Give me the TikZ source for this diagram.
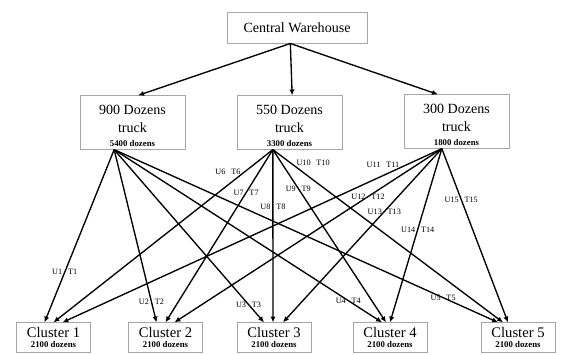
\documentclass[tikz,border=0pt]{standalone}
\usepackage{fontspec}
\setmainfont{Liberation Serif}
\usetikzlibrary{positioning}
\usetikzlibrary{shapes}
\usetikzlibrary{arrows.meta}

\tikzset{
  box/.style = {draw=gray!70, line width=0.8pt, align=center, inner sep=1pt, font=\fontsize{12}{15}\selectfont},
  truck/.style = {minimum width=3.15cm, minimum height=1.6cm},
  cluster/.style = {minimum width=2.22cm, minimum height=0.88cm, font=\fontsize{12.5}{12}\selectfont},
  link/.style = {-{Latex[length=5pt,width=4.5pt]}, line width=1.15pt},
  lbl/.style = {font=\fontsize{7}{8}\selectfont, inner sep=0pt},
}
\newcommand{\dz}[1]{\\[-3pt]{\fontsize{7.5}{8}\selectfont\bfseries #1 dozens}}
\newcommand{\ut}[1]{U#1\hspace{5pt}T#1}

\begin{document}
\begin{tikzpicture}[x=0.03cm, y=-0.03cm]
\useasboundingbox (0,0) rectangle (566,354);

% warehouse and trucks
\node[box, minimum width=4.2cm, minimum height=0.93cm] at (297,27.5) (wh) {Central Warehouse};
\node[box, truck] at (132.5,122.5) (t1) {\rule{0pt}{14pt}900 Dozens\\truck\dz{5400}};
\node[box, truck] at (289.5,122.5) (t2) {\rule{0pt}{14pt}550 Dozens\\truck\dz{3300}};
\node[box, truck] at (456.5,121.5) (t3) {\rule{0pt}{14pt}300 Dozens\\truck\dz{1800}};

% clusters
\node[box, cluster] at (53.5,337.5) (c1) {Cluster 1\dz{2100}};
\node[box, cluster] at (165.5,337.5) (c2) {Cluster 2\dz{2100}};
\node[box, cluster] at (274,337.5) (c3) {Cluster 3\dz{2100}};
\node[box, cluster] at (390,337.5) (c4) {Cluster 4\dz{2100}};
\node[box, cluster] at (518,337.5) (c5) {Cluster 5\dz{2100}};

\draw[link] ([xshift=-0.2cm]wh.south) -- ([xshift=0.17cm]t1.north);
\draw[link] ([xshift=-0.2cm]wh.south) -- ([xshift=0.08cm]t2.north);
\draw[link] ([xshift=-0.2cm]wh.south) -- ([xshift=-0.56cm]t3.north);

% truck 1
\draw[link] ([xshift=-0.55cm]t1.south) -- ([xshift=-0.27cm]c1.north) node[lbl, pos=0.71] (l1) {\ut{1}};
\draw[link] ([xshift=-0.55cm]t1.south) -- ([xshift=-0.27cm]c2.north) node[lbl, pos=0.88] (l2) {\ut{2}};
\draw[link] ([xshift=-0.55cm]t1.south) -- ([xshift=-0.3cm]c3.north) node[lbl, pos=0.897] (l3) {\ut{3}};
\draw[link] ([xshift=-0.55cm]t1.south) -- ([xshift=-0.24cm]c4.north) node[lbl, pos=0.874] (l4) {\ut{4}};
\draw[link] ([xshift=-0.55cm]t1.south) -- ([xshift=-0.6cm]c5.north) node[lbl, pos=0.857] (l5) {\ut{5}};

% truck 2
\draw[link] ([xshift=-0.5cm]t2.south) -- (c1.north) node[lbl, pos=0.127, xshift=-0.51cm] (l6) {\ut{6}};
\draw[link] ([xshift=-0.5cm]t2.south) -- (c2.north) node[lbl, pos=0.249] (l7) {\ut{7}};
\draw[link] ([xshift=-0.5cm]t2.south) -- ([xshift=-0.03cm]c3.north) node[lbl, pos=0.33] (l8) {\ut{8}};
\draw[link] ([xshift=-0.5cm]t2.south) -- ([xshift=-0.12cm]c4.north) node[lbl, pos=0.225] (l9) {\ut{9}};
\draw[link] ([xshift=-0.5cm]t2.south) -- ([xshift=-0.45cm]c5.north) node[lbl, pos=0.075, xshift=0.69cm] (l10) {\ut{10}};

% truck 3
\draw[link] ([xshift=-0.44cm]t3.south) -- ([xshift=0.27cm]c1.north) node[lbl, pos=0.092, xshift=-0.72cm] (l11) {\ut{11}};
\draw[link] ([xshift=-0.44cm]t3.south) -- ([xshift=0.27cm]c2.north) node[lbl, pos=0.276] (l12) {\ut{12}};
\draw[link] ([xshift=-0.44cm]t3.south) -- ([xshift=0.27cm]c3.north) node[lbl, pos=0.362] (l13) {\ut{13}};
\draw[link] ([xshift=-0.44cm]t3.south) -- (c4.north) node[lbl, pos=0.466] (l14) {\ut{14}};
\draw[link] ([xshift=-0.44cm]t3.south) -- ([xshift=-0.3cm]c5.north) node[lbl, pos=0.293] (l15) {\ut{15}};

\end{tikzpicture}
\end{document}
